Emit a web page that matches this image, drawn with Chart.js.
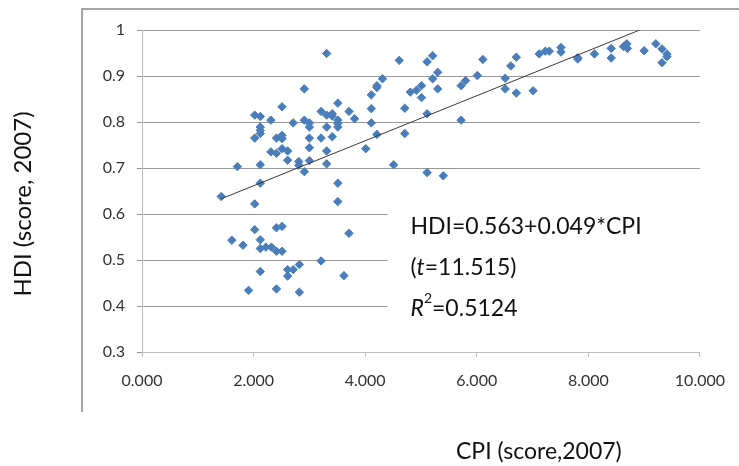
<!DOCTYPE html>
<html>
<head>
<meta charset="utf-8">
<script src="https://cdn.jsdelivr.net/npm/chart.js@4"></script>
<style>
    html, body { margin: 0; padding: 0; background: #fff; }
    #wrap { width: 739px; height: 466px; }
</style>
</head>
<body>
<div id="wrap"><canvas id="hdiChart" width="739" height="466"></canvas></div>
<script>
// CPI vs HDI, 2007
const cpi = [
    3.31, 7.12, 7.23, 7.30, 7.51, 7.51, 7.81, 7.81, 8.11, 8.41,
    8.41, 8.63, 8.69, 8.70, 8.66, 9.00, 9.21, 9.32, 9.32, 9.41,
    9.41, 4.61, 5.11, 5.21, 5.30, 5.21, 5.30, 4.31, 4.21, 4.21,
    4.11, 4.11, 4.11, 4.21, 4.01, 4.51, 4.71, 4.71, 4.81, 4.92,
    5.01, 5.01, 5.11, 5.11, 5.40, 5.72, 5.80, 5.72, 6.01, 6.11,
    6.51, 6.51, 6.61, 6.71, 6.71, 7.01, 2.91, 2.51, 2.02, 2.12,
    2.31, 2.12, 2.12, 2.12, 2.02, 2.41, 2.51, 2.51, 2.71, 2.91,
    3.00, 3.00, 3.00, 3.21, 3.21, 3.31, 3.31, 3.41, 3.41, 3.41,
    3.51, 3.51, 3.51, 3.51, 3.71, 3.81, 2.31, 2.41, 2.51, 2.61,
    2.61, 3.00, 3.31, 1.71, 2.12, 2.81, 2.81, 2.91, 3.00, 3.31,
    2.12, 1.42, 2.02, 3.51, 3.51, 1.61, 1.81, 2.02, 2.12, 2.12,
    2.22, 2.32, 2.41, 2.51, 2.41, 2.51, 3.71, 3.21, 2.12, 2.61,
    2.71, 2.61, 2.82, 3.62, 1.91, 2.41, 2.82
];
const hdi = [
    0.949, 0.948, 0.954, 0.954, 0.962, 0.952, 0.937, 0.940, 0.948, 0.960,
    0.939, 0.964, 0.970, 0.960, 0.966, 0.955, 0.970, 0.959, 0.929, 0.948,
    0.942, 0.934, 0.931, 0.944, 0.908, 0.894, 0.872, 0.894, 0.875, 0.879,
    0.859, 0.829, 0.798, 0.773, 0.742, 0.707, 0.830, 0.775, 0.865, 0.869,
    0.879, 0.853, 0.818, 0.690, 0.683, 0.879, 0.890, 0.804, 0.901, 0.936,
    0.895, 0.872, 0.922, 0.941, 0.863, 0.868, 0.872, 0.833, 0.815, 0.812,
    0.804, 0.789, 0.782, 0.775, 0.765, 0.765, 0.771, 0.764, 0.798, 0.804,
    0.798, 0.789, 0.765, 0.823, 0.765, 0.815, 0.789, 0.818, 0.813, 0.768,
    0.841, 0.804, 0.797, 0.789, 0.823, 0.807, 0.735, 0.732, 0.742, 0.737,
    0.717, 0.744, 0.737, 0.703, 0.707, 0.714, 0.706, 0.692, 0.716, 0.709,
    0.667, 0.638, 0.622, 0.667, 0.627, 0.543, 0.532, 0.566, 0.544, 0.525,
    0.528, 0.528, 0.570, 0.573, 0.519, 0.519, 0.558, 0.498, 0.475, 0.479,
    0.479, 0.465, 0.490, 0.466, 0.434, 0.437, 0.430
];

// fitted line end points (HDI = 0.563 + 0.049*CPI)
const trendX = [1.42, 8.92];
const trendY = [0.633, 1.0];

const xTickLabels = ['0.000', '2.000', '4.000', '6.000', '8.000', '10.000'];
const yTickLabels = ['0.3', '0.4', '0.5', '0.6', '0.7', '0.8', '0.9', '1'];

const xTitle = 'CPI (score,2007)';
const yTitle = 'HDI (score, 2007)';

const FONT = 'Lato, "Open Sans", sans-serif';

// Outer frame, axis titles and the regression text box
const extrasPlugin = {
    id: 'extras',
    beforeDraw(chart) {
        const ctx = chart.ctx;
        ctx.save();
        ctx.fillStyle = '#fff';
        ctx.fillRect(0, 0, chart.width, chart.height);
        ctx.strokeStyle = '#868686';
        ctx.lineWidth = 1.5;
        ctx.beginPath();
        ctx.moveTo(82, 412);
        ctx.lineTo(82, 9);
        ctx.lineTo(chart.width, 9);
        ctx.stroke();
        ctx.restore();
    },
    beforeDatasetsDraw(chart) {
        const ctx = chart.ctx;
        const xs = chart.scales.x;
        const ys = chart.scales.y;
        const left = xs.getPixelForValue(4.4);
        ctx.save();
        // text box hides the gridlines behind it
        ctx.fillStyle = '#fff';
        ctx.fillRect(left, ys.getPixelForValue(0.665), chart.chartArea.right - left + 4,
            ys.getPixelForValue(0.325) - ys.getPixelForValue(0.665));

        const tx = left + 23;
        const size = 23;
        ctx.fillStyle = '#111';
        ctx.textBaseline = 'alphabetic';
        ctx.textAlign = 'left';
        ctx.font = size + 'px ' + FONT;
        ctx.fillText('HDI=0.563+0.049*CPI', tx, 234);

        let x = tx;
        ctx.font = size + 'px ' + FONT;
        ctx.fillText('(', x, 275);
        x += ctx.measureText('(').width;
        ctx.font = 'italic ' + size + 'px ' + FONT;
        ctx.fillText('t', x, 275);
        x += ctx.measureText('t').width;
        ctx.font = size + 'px ' + FONT;
        ctx.fillText('=11.515)', x, 275);

        x = tx;
        ctx.font = 'italic ' + size + 'px ' + FONT;
        ctx.fillText('R', x, 316);
        x += ctx.measureText('R').width;
        ctx.font = '14px ' + FONT;
        ctx.fillText('2', x, 303);
        x += ctx.measureText('2').width;
        ctx.font = size + 'px ' + FONT;
        ctx.fillText('=0.5124', x, 316);

        // axis titles
        ctx.font = '23px ' + FONT;
        ctx.fillText(xTitle, 456, 459);
        ctx.translate(23, 204);
        ctx.rotate(-Math.PI / 2);
        ctx.textAlign = 'center';
        ctx.textBaseline = 'middle';
        ctx.font = '24px ' + FONT;
        ctx.fillText(yTitle, 0, 0);
        ctx.restore();
    }
};

const ctx = document.getElementById('hdiChart').getContext('2d');
new Chart(ctx, {
    type: 'scatter',
    data: {
        datasets: [
            {
                label: 'trend',
                data: trendX.map((x, i) => ({ x: x, y: trendY[i] })),
                showLine: true,
                borderColor: '#3a3a3a',
                borderWidth: 1,
                pointRadius: 0,
                fill: false
            },
            {
                label: 'countries',
                data: cpi.map((x, i) => ({ x: x, y: hdi[i] })),
                pointStyle: 'rectRot',
                pointRadius: 4.2,
                backgroundColor: '#4a7ebb',
                borderColor: '#4a7ebb',
                borderWidth: 1
            }
        ]
    },
    options: {
        responsive: false,
        animation: false,
        devicePixelRatio: 1,
        layout: {
            padding: { top: 30, right: 38, bottom: 0, left: 0 }
        },
        plugins: {
            legend: { display: false },
            tooltip: { enabled: false }
        },
        scales: {
            x: {
                type: 'linear',
                min: 0,
                max: 10,
                ticks: {
                    stepSize: 2,
                    padding: 14,
                    color: '#333',
                    font: { family: FONT, size: 16 },
                    callback: (v, i) => xTickLabels[i]
                },
                grid: {
                    drawOnChartArea: false,
                    drawTicks: true,
                    tickLength: 5,
                    tickColor: '#bfbfbf'
                },
                border: { color: '#bfbfbf', width: 1 },
                afterFit: (scale) => { scale.height = 114; }
            },
            y: {
                type: 'linear',
                min: 0.3,
                max: 1,
                ticks: {
                    stepSize: 0.1,
                    padding: 12,
                    color: '#333',
                    font: { family: FONT, size: 16 },
                    callback: (v, i) => yTickLabels[i]
                },
                grid: {
                    color: '#979797',
                    tickColor: '#979797',
                    drawTicks: true,
                    tickLength: 5
                },
                border: { color: '#bfbfbf', width: 1 },
                afterFit: (scale) => { scale.width = 142; }
            }
        }
    },
    plugins: [extrasPlugin]
});
</script>
</body>
</html>
